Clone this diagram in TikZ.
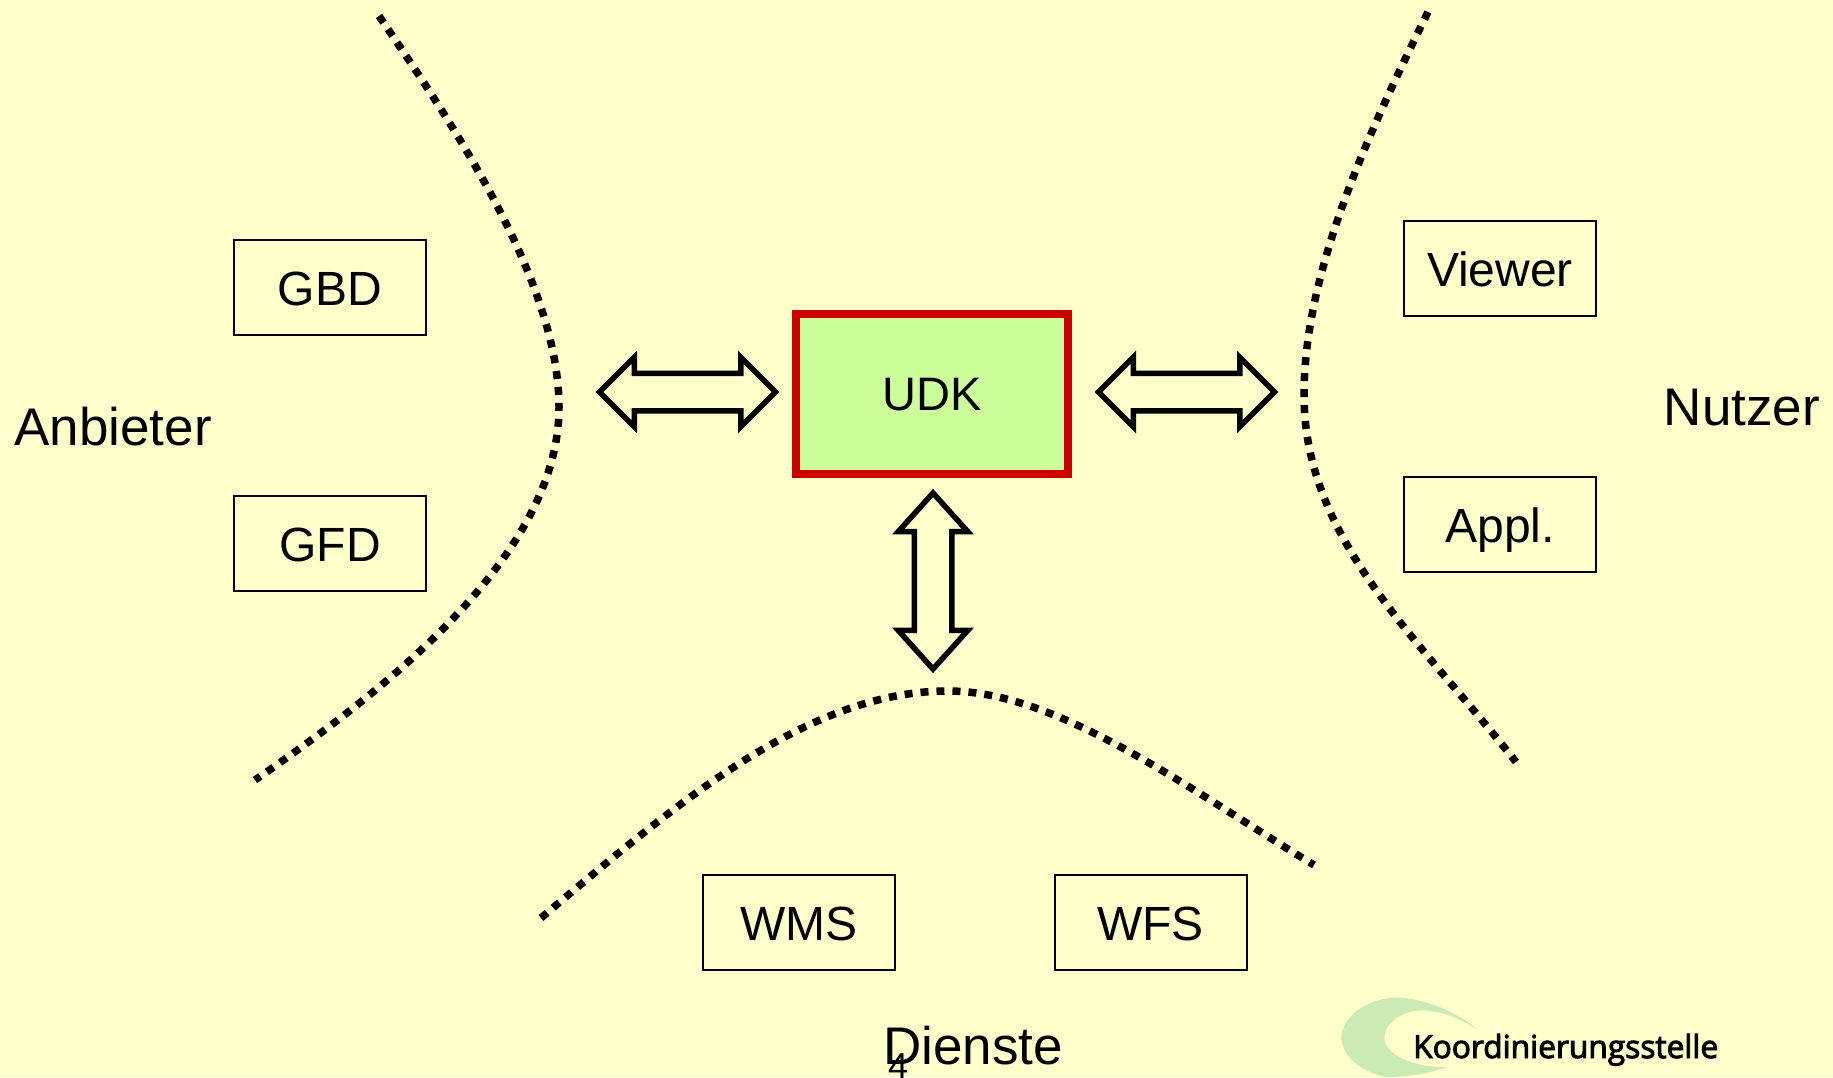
\documentclass[tikz,border=0pt]{standalone}
\usepackage{fontspec}
\setmainfont{Liberation Sans}
\newfontfamily\logofont[FakeBold=3]{Open Sans}
\usetikzlibrary{positioning,shapes.arrows}

\begin{document}
\begin{tikzpicture}[
        x=1pt,y=-1pt,
        node distance=159pt,
        curve/.style={line width=7.5pt,dash pattern=on 8pt off 8pt},
        twoway/.style={double arrow,draw,line width=5.5pt,inner xsep=0pt,inner ysep=16pt,minimum height=176pt,double arrow head indent=0pt,double arrow head extend=16pt}
    ]
    \definecolor{bgx}{HTML}{FFFFCC}
    \definecolor{grx}{HTML}{CCFF99}
    \definecolor{rex}{HTML}{CC0000}
    \definecolor{lox}{HTML}{CCEBB4}

    \useasboundingbox (0,0) rectangle (1833,1077);
    \fill [bgx] (0,0) rectangle (1833,1077);

    % logo
    \fill [lox] (1478,1030) .. controls (1440,1005) and (1405,1005) .. (1389,1025)
        .. controls (1372,1048) and (1405,1068) .. (1447,1067)
        .. controls (1425,1075) and (1400,1077) .. (1385,1077)
        .. controls (1355,1070) and (1338,1050) .. (1342,1032)
        .. controls (1350,1005) and (1385,995) .. (1405,998)
        .. controls (1435,1002) and (1460,1015) .. cycle;
    \node (logo) [anchor=base west,inner sep=0pt,font=\logofont\fontsize{31.7}{32}\selectfont] at (1413,1058) {Koordinierungsstelle};

    % the three borders
    \draw [curve] (379,16) .. controls (450,120) and (559,280) .. (559,407)
        .. controls (559,550) and (400,680) .. (255,780);
    \draw [curve] (1428,12) .. controls (1370,130) and (1304,270) .. (1304,395)
        .. controls (1304,540) and (1420,640) .. (1516,762);
    \draw [curve] (541,918) .. controls (680,800) and (810,690) .. (950,691)
        .. controls (1060,692) and (1190,790) .. (1314,865);

    \begin{scope}[
        every node/.style={draw,line width=2pt,minimum width=192pt,minimum height=95pt,text height=36pt,text depth=0pt,font=\fontsize{48}{48}\selectfont}
    ]
        \node (gbd) at (330,287.5)       {GBD};
        \node (gfd) [below=of gbd]       {GFD};
        \node (viewer) at (1500,268)     {Viewer};
        \node (appl) [below=of viewer]   {Appl.};
        \node (wms) at (799,922)         {WMS};
        \node (wfs) at (1150.5,922)      {WFS};
    \end{scope}

    \node (udk) [draw=rex,fill=grx,line width=8pt,minimum width=272pt,minimum height=160pt,text height=33pt,text depth=0pt,font=\fontsize{47}{47}\selectfont] at (932,394) {UDK};

    \node (anbieter) [font=\fontsize{53}{53}\selectfont] at (113,427)  {Anbieter};
    \node (nutzer)   [font=\fontsize{53}{53}\selectfont] at (1742,408) {Nutzer};
    \node (dienste)  [font=\fontsize{53}{53}\selectfont] at (973,1046) {Dienste};
    \node (page)     [font=\fontsize{36}{36}\selectfont] at (898,1066) {4};

    \node (left)  [twoway,double arrow tip angle=90] at (687.5,392) {};
    \node (right) [twoway,double arrow tip angle=90] at (1186.5,392) {};
    \node (down)  [twoway,rotate=90,double arrow tip angle=84] at (933,581) {};
\end{tikzpicture}
\end{document}
